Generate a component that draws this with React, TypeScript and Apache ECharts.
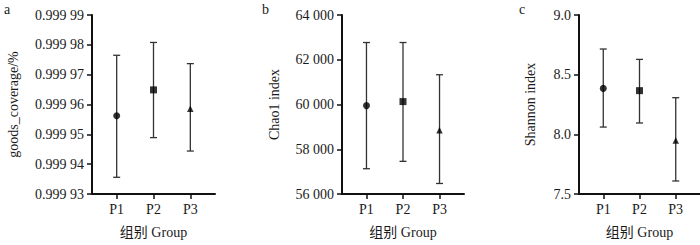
import React, { useEffect, useRef } from "react";
import * as echarts from "echarts";

const categories = ["P1", "P2", "P3"];
const xPositions = [1, 2, 3];
const markerShapes = ["circle", "rect", "triangle"];
const markerSizes = [7, 7, 6.5];

const goodsMean = [0.9999562, 0.9999649, 0.9999586];
const goodsLow = [0.9999356, 0.9999489, 0.9999444];
const goodsHigh = [0.9999765, 0.9999808, 0.9999737];

const chao1Mean = [59950, 60130, 58850];
const chao1Low = [57130, 57460, 56470];
const chao1High = [62770, 62770, 61330];

const shannonMean = [8.385, 8.366, 7.949];
const shannonLow = [8.061, 8.095, 7.609];
const shannonHigh = [8.715, 8.628, 8.307];

const goodsTicks = { min: 0.99993, max: 0.99999, interval: 0.00001 };
const chao1Ticks = { min: 56000, max: 64000, interval: 2000 };
const shannonTicks = { min: 7.5, max: 9.0, interval: 0.5 };

const FONT = "'Liberation Serif', 'Times New Roman', 'Noto Sans CJK SC', serif";
const TEXT = "#1a1a1a";

function fmtGoods(v: number) {
  const s = v.toFixed(5);
  return s.slice(0, 5) + " " + s.slice(5);
}
function fmtThousands(v: number) {
  const s = Math.round(v).toString();
  return s.replace(/\B(?=(\d{3})+(?!\d))/g, " ");
}
function fmtOne(v: number) {
  return v.toFixed(1);
}

const panels = [
  { letter: "a", name: "goods_coverage/%", mean: goodsMean, low: goodsLow, high: goodsHigh, ticks: goodsTicks, fmt: fmtGoods, left: 92, width: 123, nameGap: 72, letterX: 4 },
  { letter: "b", name: "Chao1 index", mean: chao1Mean, low: chao1Low, high: chao1High, ticks: chao1Ticks, fmt: fmtThousands, left: 342, width: 122, nameGap: 61, letterX: 262 },
  { letter: "c", name: "Shannon index", mean: shannonMean, low: shannonLow, high: shannonHigh, ticks: shannonTicks, fmt: fmtOne, left: 579, width: 122, nameGap: 42, letterX: 519 },
];

export default function App() {
  const ref = useRef<HTMLDivElement>(null);
  useEffect(() => {
    if (!ref.current) return;
    const chart = echarts.init(ref.current, undefined, { renderer: "svg" });
    const grid: any[] = [];
    const xAxis: any[] = [];
    const yAxis: any[] = [];
    const series: any[] = [];
    const graphic: any[] = [];
    panels.forEach((p, i) => {
      grid.push({ left: p.left, top: 15, width: p.width, height: 179 });
      xAxis.push({
        type: "value",
        gridIndex: i,
        min: 0.33,
        max: 3.67,
        splitLine: { show: false },
        axisLine: { show: true, lineStyle: { color: "#111", width: 2 } },
        axisTick: { show: true, customValues: xPositions, length: 5, lineStyle: { color: "#111", width: 1.5 } },
        axisLabel: {
          customValues: xPositions,
          formatter: (v: number) => categories[Math.round(v) - 1] ?? "",
          fontFamily: FONT,
          fontSize: 14,
          color: TEXT,
          margin: 8,
        },
        name: "组别 Group",
        nameLocation: "middle",
        nameGap: 31,
        nameTextStyle: { fontFamily: FONT, fontSize: 14, color: TEXT },
      });
      yAxis.push({
        type: "value",
        gridIndex: i,
        min: p.ticks.min,
        max: p.ticks.max,
        interval: p.ticks.interval,
        splitLine: { show: false },
        axisLine: { show: true, lineStyle: { color: "#111", width: 2 } },
        axisTick: { show: true, length: 5, lineStyle: { color: "#111", width: 1.5 } },
        axisLabel: { formatter: p.fmt, fontFamily: FONT, fontSize: 14, color: TEXT, margin: 8 },
        name: p.name,
        nameLocation: "middle",
        nameRotate: 90,
        nameGap: p.nameGap,
        nameTextStyle: { fontFamily: FONT, fontSize: 14, color: TEXT },
      });
      series.push({
        type: "custom",
        xAxisIndex: i,
        yAxisIndex: i,
        data: xPositions.map((x, k) => [x, p.low[k], p.high[k]]),
        renderItem: (_params: any, api: any) => {
          const x = api.value(0);
          const lo = api.coord([x, api.value(1)]);
          const hi = api.coord([x, api.value(2)]);
          const w = 3.5;
          const style = { stroke: "#333", lineWidth: 1.3 };
          return {
            type: "group",
            children: [
              { type: "line", shape: { x1: lo[0], y1: lo[1], x2: hi[0], y2: hi[1] }, style },
              { type: "line", shape: { x1: lo[0] - w, y1: lo[1], x2: lo[0] + w, y2: lo[1] }, style },
              { type: "line", shape: { x1: hi[0] - w, y1: hi[1], x2: hi[0] + w, y2: hi[1] }, style },
            ],
          };
        },
        z: 2,
      });
      series.push({
        type: "scatter",
        xAxisIndex: i,
        yAxisIndex: i,
        data: xPositions.map((x, k) => ({
          value: [x, p.mean[k]],
          symbol: markerShapes[k],
          symbolSize: markerSizes[k],
        })),
        itemStyle: { color: "#000" },
        z: 3,
      });
      graphic.push({
        type: "text",
        left: p.letterX,
        top: 2,
        style: { text: p.letter, fontFamily: FONT, fontSize: 14, fill: TEXT },
      });
    });
    chart.setOption({
      animation: false,
      backgroundColor: "#fff",
      grid,
      xAxis,
      yAxis,
      series,
      graphic,
    });
    return () => chart.dispose();
  }, []);
  return (
    <div
      ref={ref}
      style={{ position: "fixed", left: 0, top: 0, width: 700, height: 245 }}
    />
  );
}
